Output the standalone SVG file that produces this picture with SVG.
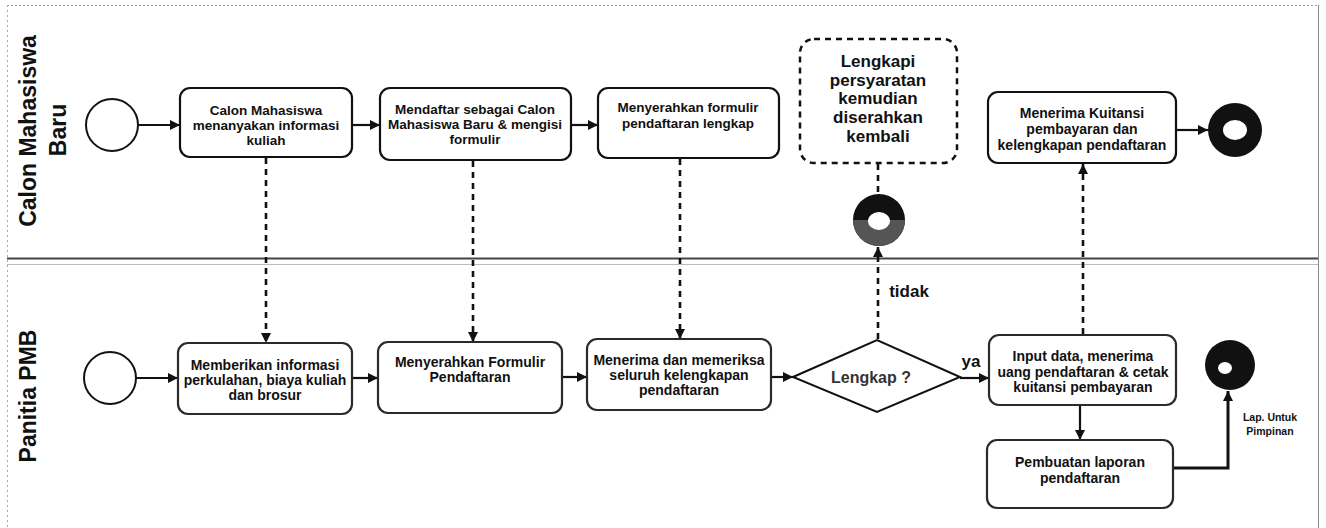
<svg xmlns="http://www.w3.org/2000/svg" width="1326" height="528" viewBox="0 0 1326 528">
<style>
text{font-family:"Liberation Sans",Arial,sans-serif;font-weight:bold;fill:#111;text-anchor:middle}
.box{fill:#fff;stroke:#111;stroke-width:2.2}
.boxb{fill:#fff;stroke:#2a2a2a;stroke-width:2.2}
.dbox{fill:#fff;stroke:#111;stroke-width:2.5;stroke-dasharray:6 5}
.ev{fill:#fff;stroke:#111;stroke-width:2}
.flow{fill:none;stroke:#111;stroke-width:2.2}
.msg{fill:none;stroke:#111;stroke-width:2.6;stroke-dasharray:6 5}
.lane{font-size:23px}
.t13{font-size:13.5px}
.t14{font-size:14px}
.t19{font-size:17px}
.lbl{font-size:17px}
</style>
<defs>
<marker id="ah" viewBox="0 0 10 10" refX="10" refY="5" markerWidth="10" markerHeight="10" markerUnits="userSpaceOnUse" orient="auto">
<path d="M0,0 L10,5 L0,10 z" fill="#111"/>
</marker>
</defs>
<rect width="1326" height="528" fill="#fff"/>
<g id="pool" fill="none">
<line x1="7" y1="5.5" x2="1318" y2="5.5" stroke="#999" stroke-width="1" stroke-dasharray="2 2"/>
<line x1="7.5" y1="5" x2="7.5" y2="528" stroke="#aaa" stroke-width="1" stroke-dasharray="2 3"/>
<line x1="1318.5" y1="5" x2="1318.5" y2="528" stroke="#888" stroke-width="1"/>
<line x1="7" y1="258.5" x2="1318" y2="258.5" stroke="#444" stroke-width="1.8"/>
<line x1="7" y1="264.5" x2="1318" y2="264.5" stroke="#bbb" stroke-width="1"/>
</g>
<g id="lane-calon">
<text class="lane" transform="translate(36,131) rotate(-90)">Calon Mahasiswa</text>
<text class="lane" transform="translate(66,130) rotate(-90)">Baru</text>
</g>
<g id="lane-panitia">
<text class="lane" transform="translate(36,396) rotate(-90)">Panitia PMB</text>
</g>
<g id="connectors">
<line class="flow" x1="138" y1="125" x2="180" y2="125" marker-end="url(#ah)"/>
<line class="flow" x1="352" y1="125" x2="380" y2="125" marker-end="url(#ah)"/>
<line class="flow" x1="571" y1="125" x2="598" y2="125" marker-end="url(#ah)"/>
<line class="flow" x1="1176" y1="130" x2="1208" y2="130" marker-end="url(#ah)"/>
<line class="msg" x1="878" y1="164" x2="878" y2="194"/>
<line class="msg" x1="878" y1="339" x2="878" y2="247" marker-end="url(#ah)"/>
<line class="msg" x1="1083" y1="334" x2="1083" y2="164" marker-end="url(#ah)"/>
<line class="msg" x1="266" y1="158" x2="266" y2="343" marker-end="url(#ah)"/>
<line class="msg" x1="473" y1="161" x2="473" y2="342" marker-end="url(#ah)"/>
<line class="msg" x1="680" y1="159" x2="680" y2="339" marker-end="url(#ah)"/>
<line class="flow" x1="136" y1="378" x2="178" y2="378" marker-end="url(#ah)"/>
<line class="flow" x1="352" y1="378" x2="378" y2="378" marker-end="url(#ah)"/>
<line class="flow" x1="562" y1="377" x2="587" y2="377" marker-end="url(#ah)"/>
<line class="flow" x1="771" y1="377" x2="793" y2="377" marker-end="url(#ah)"/>
<line class="flow" x1="960" y1="378" x2="989" y2="378" marker-end="url(#ah)"/>
<line class="flow" x1="1080" y1="405" x2="1080" y2="440" marker-end="url(#ah)"/>
<polyline class="flow" style="stroke-width:3" points="1173,468 1228,468 1228,391" marker-end="url(#ah)"/>
<text class="lbl" x="909" y="297">tidak</text>
<text class="lbl" x="971" y="367">ya</text>
<text style="font-size:10.5px" x="1270" y="421">Lap. Untuk</text>
<text style="font-size:10.5px" x="1270" y="435">Pimpinan</text>
</g>
<g id="start-calon"><circle class="ev" cx="112" cy="125" r="26"/></g>
<g id="task-tanya">
<rect class="box" x="180" y="88" width="172" height="69" rx="10"/>
<text class="t13" x="266" y="115">Calon Mahasiswa</text>
<text class="t13" x="266" y="130">menanyakan informasi</text>
<text class="t13" x="266" y="145">kuliah</text>
</g>
<g id="task-daftar">
<rect class="box" x="380" y="88" width="191" height="72" rx="10"/>
<text class="t13" x="475" y="114">Mendaftar sebagai Calon</text>
<text class="t13" x="475" y="129">Mahasiswa Baru &amp; mengisi</text>
<text class="t13" x="475" y="144">formulir</text>
</g>
<g id="task-serahkan">
<rect class="box" x="598" y="88" width="181" height="70" rx="10"/>
<text class="t13" x="688" y="112">Menyerahkan formulir</text>
<text class="t13" x="688" y="128">pendaftaran lengkap</text>
</g>
<g id="task-lengkapi">
<rect class="dbox" x="800" y="39" width="157" height="124" rx="14"/>
<text class="t19" x="878" y="67">Lengkapi</text>
<text class="t19" x="878" y="86">persyaratan</text>
<text class="t19" x="878" y="104">kemudian</text>
<text class="t19" x="878" y="123">diserahkan</text>
<text class="t19" x="878" y="142">kembali</text>
</g>
<g id="end-tidak">
<circle cx="879" cy="220" r="26" fill="#111"/>
<path d="M853,220 A26,26 0 0 0 905,220 Z" fill="#555"/>
<ellipse cx="879" cy="221" rx="11" ry="9" fill="#fff"/>
</g>
<g id="task-kuitansi">
<rect class="box" x="988" y="92" width="188" height="71" rx="10"/>
<text style="font-size:14px" x="1082" y="118">Menerima Kuitansi</text>
<text style="font-size:14px" x="1082" y="134">pembayaran dan</text>
<text style="font-size:14px" x="1082" y="150">kelengkapan pendaftaran</text>
</g>
<g id="end-calon">
<circle cx="1235" cy="130" r="27" fill="#111"/>
<ellipse cx="1235" cy="130" rx="12" ry="10" fill="#fff"/>
</g>
<g id="start-panitia"><circle class="ev" cx="110" cy="378" r="26"/></g>
<g id="task-informasi">
<rect class="boxb" x="178" y="343" width="174" height="71" rx="10"/>
<text class="t14" x="265" y="370">Memberikan informasi</text>
<text class="t14" x="265" y="385">perkulahan, biaya kuliah</text>
<text class="t14" x="265" y="400">dan brosur</text>
</g>
<g id="task-formulir">
<rect class="boxb" x="378" y="342" width="184" height="71" rx="10"/>
<text class="t14" x="470" y="367">Menyerahkan Formulir</text>
<text class="t14" x="470" y="382">Pendaftaran</text>
</g>
<g id="task-periksa">
<rect class="boxb" x="587" y="339" width="184" height="71" rx="10"/>
<text class="t14" x="679" y="365">Menerima dan memeriksa</text>
<text class="t14" x="679" y="380">seluruh kelengkapan</text>
<text class="t14" x="679" y="395">pendaftaran</text>
</g>
<g id="gateway-lengkap">
<polygon points="793,377 877,340 960,377 877,412" fill="#fff" stroke="#111" stroke-width="2"/>
<text style="font-size:16px;fill:#333" x="871" y="383">Lengkap ?</text>
</g>
<g id="task-input">
<rect class="boxb" x="989" y="335" width="187" height="70" rx="10"/>
<text class="t14" x="1083" y="361">Input data, menerima</text>
<text class="t14" x="1083" y="377">uang pendaftaran &amp; cetak</text>
<text class="t14" x="1083" y="392">kuitansi pembayaran</text>
</g>
<g id="task-laporan">
<rect class="boxb" x="987" y="440" width="186" height="68" rx="10"/>
<text class="t14" x="1080" y="467">Pembuatan laporan</text>
<text class="t14" x="1080" y="483">pendaftaran</text>
</g>
<g id="end-panitia">
<circle cx="1230" cy="365" r="25" fill="#111"/>
<ellipse cx="1225" cy="368" rx="7" ry="6" fill="#fff"/>
</g>
</svg>
